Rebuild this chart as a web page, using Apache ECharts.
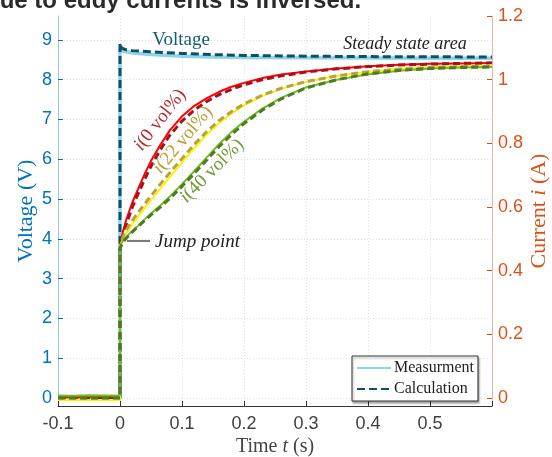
<!doctype html>
<html lang="en">
<head>
    <meta charset="UTF-8">
    <title>Voltage and current step response</title>
    <script type="text/javascript" src="https://cdn.jsdelivr.net/npm/echarts@6/dist/echarts.min.js"></script>
    <style>
        html, body { margin: 0; padding: 0; background: #fff; }
        #chart { width: 552px; height: 457px; }
    </style>
</head>
<body>
<div id="chart"></div>
<script>
    // time axis (s)
    var tVoltage = [-0.1, -0.05, 0, 0, 0.002, 0.005, 0.01, 0.02, 0.05, 0.1, 0.15, 0.2, 0.3, 0.4, 0.5, 0.6];
    var voltMeas = [0, 0, 0, 8.78, 8.74, 8.72, 8.7, 8.67, 8.63, 8.59, 8.57, 8.56, 8.55, 8.545, 8.54, 8.54];
    var voltCalc = [0, 0, 0, 8.92, 8.8, 8.77, 8.75, 8.73, 8.7, 8.66, 8.63, 8.61, 8.59, 8.58, 8.575, 8.57];

    var tCurrent = [-0.1, -0.075, -0.05, -0.025, 0, 0, 0.005, 0.01, 0.02, 0.03, 0.04, 0.05, 0.065, 0.08, 0.1,
        0.12, 0.14, 0.16, 0.18, 0.2, 0.23, 0.26, 0.3, 0.35, 0.4, 0.45, 0.5, 0.55, 0.6];
    // i(0 vol%)
    var i0Meas = [0.004, 0.002, 0.005, 0.003, 0.003, 0.48, 0.525, 0.56, 0.615, 0.66, 0.705, 0.745, 0.795, 0.84, 0.885,
        0.918, 0.942, 0.962, 0.978, 0.99, 1.005, 1.016, 1.026, 1.035, 1.042, 1.047, 1.05, 1.051, 1.052];
    var i0Calc = [0, 0, 0, 0, 0, 0.47, 0.51, 0.545, 0.6, 0.645, 0.688, 0.728, 0.78, 0.825, 0.87,
        0.905, 0.932, 0.953, 0.97, 0.984, 1.0, 1.012, 1.024, 1.034, 1.041, 1.046, 1.049, 1.051, 1.053];
    // i(22 vol%)
    var i22Meas = [-0.006, -0.005, -0.007, -0.006, -0.006, 0.48, 0.5, 0.518, 0.546, 0.572, 0.597, 0.622, 0.658, 0.693, 0.74,
        0.785, 0.828, 0.864, 0.894, 0.919, 0.949, 0.971, 0.993, 1.012, 1.025, 1.034, 1.039, 1.042, 1.043];
    var i22Calc = [0, 0, 0, 0, 0, 0.47, 0.508, 0.528, 0.558, 0.585, 0.61, 0.635, 0.672, 0.707, 0.752,
        0.797, 0.837, 0.872, 0.9, 0.924, 0.952, 0.973, 0.994, 1.012, 1.025, 1.033, 1.038, 1.041, 1.042];
    // i(40 vol%)
    var i40Meas = [0.008, 0.007, 0.009, 0.008, 0.008, 0.48, 0.495, 0.505, 0.525, 0.543, 0.562, 0.58, 0.605, 0.632, 0.672,
        0.713, 0.756, 0.798, 0.836, 0.868, 0.91, 0.943, 0.976, 1.0, 1.017, 1.028, 1.035, 1.038, 1.04];
    var i40Calc = [0, 0, 0, 0, 0, 0.47, 0.49, 0.502, 0.522, 0.54, 0.558, 0.575, 0.6, 0.626, 0.665,
        0.706, 0.748, 0.79, 0.828, 0.862, 0.905, 0.94, 0.974, 1.0, 1.018, 1.029, 1.035, 1.038, 1.04];

    var xLabels = [-0.1, 0, 0.1, 0.2, 0.3, 0.4, 0.5];
    var xTicks = [-0.1, 0, 0.1, 0.2, 0.3, 0.4, 0.5, 0.6];
    var voltTicks = [0, 1, 2, 3, 4, 5, 6, 7, 8, 9];
    var currentTicks = [0, 0.2, 0.4, 0.6, 0.8, 1, 1.2];

    var SERIF = '"Liberation Serif", "Times New Roman", serif';
    var SANS = '"Liberation Sans", Arial, sans-serif';
    var BLUE = '#0072BD';
    var ORANGE = '#D95319';
    var GRID = '#dce2e8';

    function pairs(t, v) {
        var out = [];
        for (var k = 0; k < t.length; k++) out.push([t[k], v[k]]);
        return out;
    }

    function lineSeries(name, t, v, axis, color, width, dash) {
        return {
            name: name,
            type: 'line',
            yAxisIndex: axis,
            data: pairs(t, v),
            symbol: 'none',
            smooth: false,
            lineStyle: {color: color, width: width, type: dash || 'solid', cap: 'butt'},
            itemStyle: {color: color},
            emphasis: {disabled: true}
        };
    }

    var chart = echarts.init(document.getElementById('chart'), null, {renderer: 'canvas'});

    chart.setOption({
        animation: false,
        backgroundColor: '#fff',
        grid: {left: 58, right: 60, top: 16, bottom: 51, containLabel: false, outerBoundsMode: 'none'},
        legend: {
            data: ['Measurment', 'Calculation'],
            orient: 'vertical',
            left: 352,
            top: 356,
            itemWidth: 34,
            itemHeight: 12,
            itemGap: 5,
            padding: [4, 4, 4, 4],
            backgroundColor: '#fff',
            borderColor: '#333',
            borderWidth: 1,
            borderRadius: 0,
            shadowColor: 'rgba(0,0,0,0.35)',
            shadowBlur: 2,
            shadowOffsetX: 1,
            shadowOffsetY: 2,
            itemStyle: {opacity: 0},
            textStyle: {fontFamily: SERIF, fontSize: 16, color: '#222', padding: [0, 0, 0, -2]}
        },
        xAxis: {
            type: 'value',
            min: -0.1,
            max: 0.6,
            interval: 0.02,
            name: 'Time {it|t} (s)',
            nameLocation: 'middle',
            nameGap: 31,
            nameMoveOverlap: false,
            nameTextStyle: {
                fontFamily: SERIF, fontSize: 20, color: '#444',
                rich: {it: {fontFamily: SERIF, fontSize: 20, fontStyle: 'italic', color: '#444'}}
            },
            axisLine: {onZero: false, lineStyle: {color: '#333', width: 1}},
            axisTick: {customValues: xTicks, inside: true, length: 5, lineStyle: {color: '#333'}},
            axisLabel: {
                customValues: xLabels,
                margin: 9,
                fontFamily: SANS, fontSize: 18, color: '#404040',
                formatter: function (v) { return String(Number(v.toFixed(2))); }
            },
            splitLine: {show: true, lineStyle: {color: GRID, type: [1, 2], width: 1}}
        },
        yAxis: [
            {
                type: 'value',
                position: 'left',
                min: -0.2,
                max: 9.6,
                interval: 0.2,
                name: 'Voltage (V)',
                nameLocation: 'middle',
                nameGap: 21,
                nameMoveOverlap: false,
                nameTextStyle: {fontFamily: SERIF, fontSize: 22, color: BLUE},
                axisLine: {show: true, onZero: false, lineStyle: {color: '#8ec9ea', width: 1}},
                axisTick: {show: true, customValues: voltTicks, inside: true, length: 5, lineStyle: {color: BLUE}},
                axisLabel: {
                    customValues: voltTicks,
                    margin: 6,
                    fontFamily: SANS, fontSize: 18, color: BLUE,
                    formatter: function (v) { return String(Math.round(v)); }
                },
                splitLine: {show: true, lineStyle: {color: GRID, type: [1, 2], width: 1}}
            },
            {
                type: 'value',
                position: 'right',
                min: -0.025,
                max: 1.2,
                interval: 0.025,
                name: 'Current {it|i} (A)',
                nameLocation: 'middle',
                nameGap: 36,
                nameMoveOverlap: false,
                nameTextStyle: {
                    fontFamily: SERIF, fontSize: 22, color: ORANGE,
                    rich: {it: {fontFamily: SERIF, fontSize: 22, fontStyle: 'italic', color: ORANGE}}
                },
                axisLine: {show: true, onZero: false, lineStyle: {color: '#f0b49c', width: 1}},
                axisTick: {show: true, customValues: currentTicks, inside: true, length: 5, lineStyle: {color: ORANGE}},
                axisLabel: {
                    customValues: currentTicks,
                    margin: 6,
                    fontFamily: SANS, fontSize: 18, color: ORANGE,
                    formatter: function (v) { return String(Number(v.toFixed(1))); }
                },
                splitLine: {show: false}
            }
        ],
        series: [
            lineSeries('Measurment', tVoltage, voltMeas, 0, '#8fd3e8', 3.5),
            lineSeries('Calculation', tVoltage, voltCalc, 0, '#0b5265', 3, [8, 4]),
            lineSeries('i0 meas', tCurrent, i0Meas, 1, '#ff0000', 2),
            lineSeries('i0 calc', tCurrent, i0Calc, 1, '#a8101a', 3, [7, 4]),
            lineSeries('i22 meas', tCurrent, i22Meas, 1, '#fff200', 2),
            lineSeries('i22 calc', tCurrent, i22Calc, 1, '#b9a040', 3, [7, 4]),
            lineSeries('i40 meas', tCurrent, i40Meas, 1, '#6fbf28', 2),
            lineSeries('i40 calc', tCurrent, i40Calc, 1, '#4e7c1e', 3, [7, 4])
        ],
        graphic: [
            {
                type: 'text', x: -15, y: 1, z: 100,
                style: {
                    text: 'due to eddy currents is inversed.',
                    font: 'bold 24px ' + SANS, fill: '#2a2a2a',
                    textAlign: 'left', textVerticalAlign: 'middle'
                }
            },
            {
                type: 'text', x: 181, y: 40, z: 100,
                style: {
                    text: 'Voltage', font: '19px ' + SERIF, fill: '#145c6e',
                    textAlign: 'center', textVerticalAlign: 'middle'
                }
            },
            {
                type: 'text', x: 405, y: 44, z: 100,
                style: {
                    text: 'Steady state area', font: 'italic 18px ' + SERIF, fill: '#222',
                    textAlign: 'center', textVerticalAlign: 'middle'
                }
            },
            {
                type: 'line', z: 100,
                shape: {x1: 127, y1: 241, x2: 150, y2: 241},
                style: {stroke: '#222', lineWidth: 1.2}
            },
            {
                type: 'text', x: 155, y: 242, z: 100,
                style: {
                    text: 'Jump point', font: 'italic 19px ' + SERIF, fill: '#222',
                    textAlign: 'left', textVerticalAlign: 'middle'
                }
            },
            {
                type: 'text', x: 160, y: 120, z: 100, rotation: 52 * Math.PI / 180,
                style: {
                    text: '{it|i}(0 vol%)', font: '19px ' + SERIF, fill: '#b8282c',
                    textAlign: 'center', textVerticalAlign: 'middle',
                    rich: {it: {font: 'italic 19px ' + SERIF, fill: '#b8282c'}}
                }
            },
            {
                type: 'text', x: 183, y: 140, z: 100, rotation: 50 * Math.PI / 180,
                style: {
                    text: '{it|i}(22 vol%)', font: '19px ' + SERIF, fill: '#b9a038',
                    textAlign: 'center', textVerticalAlign: 'middle',
                    rich: {it: {font: 'italic 19px ' + SERIF, fill: '#b9a038'}}
                }
            },
            {
                type: 'text', x: 212, y: 171, z: 100, rotation: 45 * Math.PI / 180,
                style: {
                    text: '{it|i}(40 vol%)', font: '19px ' + SERIF, fill: '#6e9a32',
                    textAlign: 'center', textVerticalAlign: 'middle',
                    rich: {it: {font: 'italic 19px ' + SERIF, fill: '#6e9a32'}}
                }
            }
        ]
    });
</script>
</body>
</html>
